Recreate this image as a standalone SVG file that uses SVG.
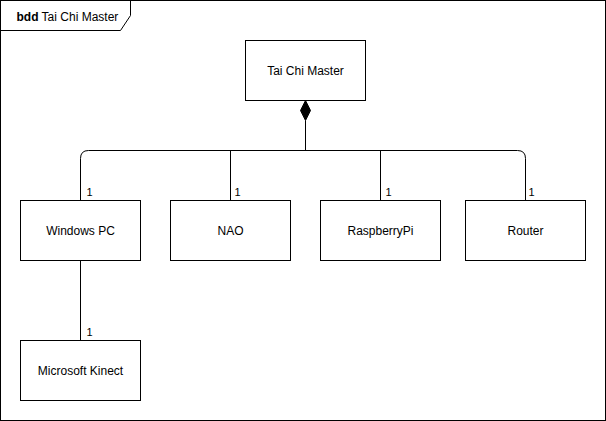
<svg xmlns="http://www.w3.org/2000/svg" width="606" height="421" viewBox="0 0 606 421">
<style>
.box{fill:#fff;stroke:#000;stroke-width:1}
.ln{fill:none;stroke:#000;stroke-width:1}
.t{font-family:"Liberation Sans",Arial,sans-serif;font-size:12px;fill:#000}
.m{font-family:"Liberation Sans",Arial,sans-serif;font-size:11px;fill:#000}
</style>
<rect width="606" height="421" fill="#fff"/>
<g transform="translate(0.5,0.5)">
<g id="frame">
<rect x="0" y="0" width="605" height="420" class="ln"/>
<path d="M0,30 L120,30 L130,15 L130,0" class="ln"/>
<text x="16" y="20" class="t"><tspan font-weight="bold">bdd</tspan> Tai Chi Master</text>
</g>
<g id="connectors">
<path d="M305,120 L305,150" class="ln"/>
<path d="M80,200 L80,158 Q80,150 88,150 L517,150 Q525,150 525,158 L525,200" class="ln"/>
<path d="M230,150 L230,200" class="ln"/>
<path d="M380,150 L380,200" class="ln"/>
<path d="M80,260 L80,340" class="ln"/>
<path d="M305,100 L310,110 L305,120 L300,110 Z" fill="#000" stroke="#000"/>
<text x="86" y="195" class="m">1</text>
<text x="234" y="195" class="m">1</text>
<text x="385" y="195" class="m">1</text>
<text x="528" y="195" class="m">1</text>
<text x="86" y="335" class="m">1</text>
</g>
<g id="taichi">
<rect x="245" y="40" width="120" height="60" class="box"/>
<text x="305" y="74" class="t" text-anchor="middle">Tai Chi Master</text>
</g>
<g id="windowspc">
<rect x="20" y="200" width="120" height="60" class="box"/>
<text x="80" y="234" class="t" text-anchor="middle">Windows PC</text>
</g>
<g id="nao">
<rect x="170" y="200" width="120" height="60" class="box"/>
<text x="230" y="234" class="t" text-anchor="middle">NAO</text>
</g>
<g id="raspberrypi">
<rect x="320" y="200" width="120" height="60" class="box"/>
<text x="380" y="234" class="t" text-anchor="middle">RaspberryPi</text>
</g>
<g id="router">
<rect x="465" y="200" width="120" height="60" class="box"/>
<text x="525" y="234" class="t" text-anchor="middle">Router</text>
</g>
<g id="kinect">
<rect x="20" y="340" width="120" height="60" class="box"/>
<text x="80" y="374" class="t" text-anchor="middle">Microsoft Kinect</text>
</g>
</g>
</svg>
